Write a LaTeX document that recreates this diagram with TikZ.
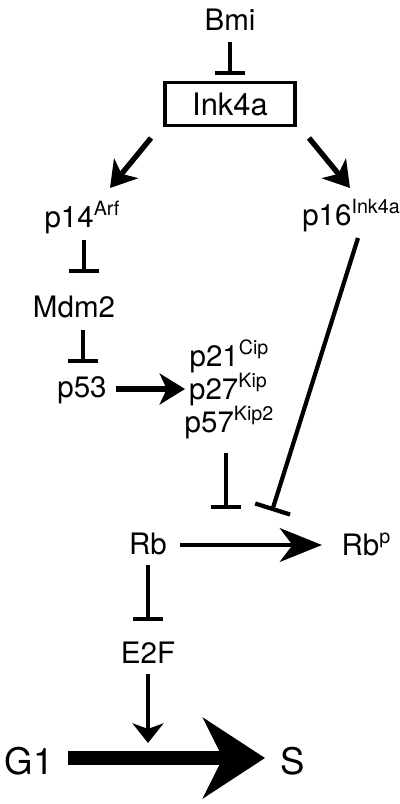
\documentclass[tikz,border=0pt]{standalone}
\usepackage{fontspec}
\setmainfont{TeX Gyre Heros}
\usetikzlibrary{arrows.meta}
\newcommand{\supx}[1]{\raisebox{8.5pt}{\fontsize{14}{14}\selectfont #1}}

\begin{document}
\begin{tikzpicture}[x=0.025cm, y=-0.025cm,
    lbl/.style={inner sep=0pt, anchor=base, font=\fontsize{21}{23}\selectfont},
    act/.style={line width=3.8pt, -{Stealth[length=18pt, width=22pt, inset=5pt]}},
    inh/.style={line width=3pt, -{Bar[width=22pt]}}]
    \useasboundingbox (0,0) rectangle (400,804);

    \node[lbl] (bmi) at (230,30) {Bmi};
    \node[draw, line width=2.2pt, minimum width=3.25cm, minimum height=1.08cm, inner sep=0pt,
          font=\fontsize{22}{24}\selectfont] (ink) at (230,104) {Ink4a};
    \node[lbl] (p14) at (82,227) {p14\supx{Arf}};
    \node[lbl] (p16) at (351,225) {p16\supx{Ink4a}};
    \node[lbl] (mdm) at (74,317) {Mdm2};
    \node[lbl] (p53) at (82,397) {p53};
    \node[lbl] (p21) at (229,366) {p21\supx{Cip}};
    \node[lbl] (p27) at (228,399) {p27\supx{Kip}};
    \node[lbl] (p57) at (229,432) {p57\supx{Kip2}};
    \node[lbl] (rb) at (148,554) {Rb};
    \node[lbl] (rbp) at (366,555) {Rb\supx{p}};
    \node[lbl] (e2f) at (148,663) {E2F};
    \node[lbl, font=\fontsize{26}{28}\selectfont] (g1) at (29,774) {G1};
    \node[lbl, font=\fontsize{26}{28}\selectfont] (s) at (293,774) {S};

    \coordinate (rbx1) at (226,509);
    \coordinate (rbx2) at (272,511);
    \coordinate (gs) at (148,743);

    \draw[inh] ([shift={(0,12)}]bmi.base) -- ([shift={(0,-6)}]ink.north);
    \draw[act] ([shift={(-79,34)}]ink.center) -- ([shift={(28,-39)}]p14.base);
    \draw[act] ([shift={(79,34)}]ink.center) -- ([shift={(-1,-37)}]p16.base);
    \draw[inh] ([shift={(2,13)}]p14.base) -- ([shift={(10,-44)}]mdm.base);
    \draw[inh] ([shift={(9,13)}]mdm.base) -- ([shift={(1,-34)}]p53.base);
    \draw[act] ([shift={(34,-8)}]p53.base) -- ([shift={(-43,-10)}]p27.base);
    \draw[inh] ([shift={(-3,21)}]p57.base) -- (rbx1);
    \draw[inh, -{Bar[width=26pt]}] ([shift={(7,13)}]p16.base) -- (rbx2);
    \draw[line width=3.2pt, -{Stealth[length=30pt, width=24pt, inset=9pt]}]
        ([shift={(32,-9)}]rb.base) -- ([shift={(-44,-10)}]rbp.base);
    \draw[inh] ([shift={(0,11)}]rb.base) -- ([shift={(0,-42)}]e2f.base);
    \draw[line width=2.8pt, -{Stealth[length=14pt, width=22pt, inset=4pt]}]
        ([shift={(0,11)}]e2f.base) -- (gs);
    \draw[line width=9.5pt, -{Stealth[length=44pt, width=57pt, inset=14pt]}]
        ([shift={(39,-16)}]g1.base) -- ([shift={(-28,-16)}]s.base);
\end{tikzpicture}
\end{document}
